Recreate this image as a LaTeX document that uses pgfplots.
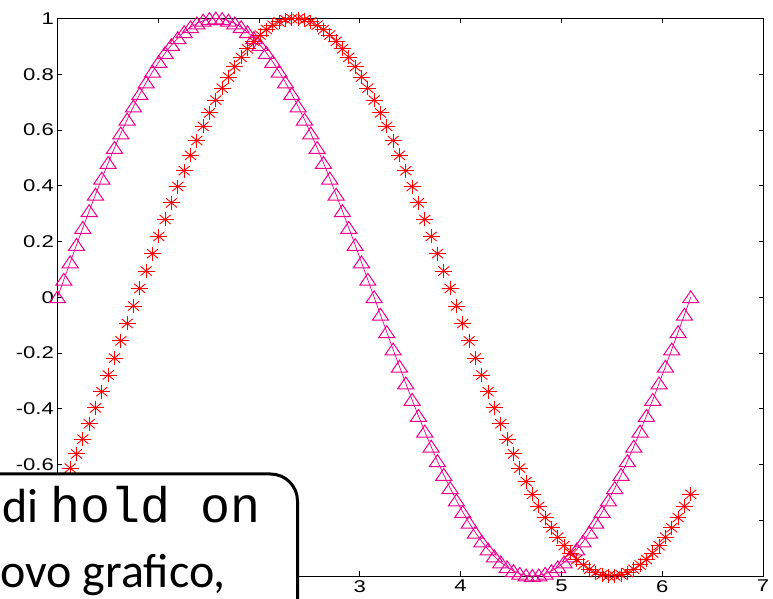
\documentclass[border=0pt]{standalone}
\usepackage{fontspec}
\setmainfont{Liberation Sans}
\newfontfamily\carlito{Carlito}
\newfontfamily\monof{Liberation Mono}
\usepackage{pgfplots}
\usepackage{pgfplotstable}
\pgfplotsset{compat=1.18}

\pgfplotstableread{
x s c
0.0000 0.0000 -0.7071
0.0628 0.0628 -0.6613
0.1257 0.1253 -0.6129
0.1885 0.1874 -0.5621
0.2513 0.2487 -0.5090
0.3142 0.3090 -0.4540
0.3770 0.3681 -0.3971
0.4398 0.4258 -0.3387
0.5027 0.4818 -0.2790
0.5655 0.5358 -0.2181
0.6283 0.5878 -0.1564
0.6912 0.6374 -0.0941
0.7540 0.6845 -0.0314
0.8168 0.7290 0.0314
0.8796 0.7705 0.0941
0.9425 0.8090 0.1564
1.0053 0.8443 0.2181
1.0681 0.8763 0.2790
1.1310 0.9048 0.3387
1.1938 0.9298 0.3971
1.2566 0.9511 0.4540
1.3195 0.9686 0.5090
1.3823 0.9823 0.5621
1.4451 0.9921 0.6129
1.5080 0.9980 0.6613
1.5708 1.0000 0.7071
1.6336 0.9980 0.7501
1.6965 0.9921 0.7902
1.7593 0.9823 0.8271
1.8221 0.9686 0.8607
1.8850 0.9511 0.8910
1.9478 0.9298 0.9178
2.0106 0.9048 0.9409
2.0735 0.8763 0.9603
2.1363 0.8443 0.9759
2.1991 0.8090 0.9877
2.2619 0.7705 0.9956
2.3248 0.7290 0.9995
2.3876 0.6845 0.9995
2.4504 0.6374 0.9956
2.5133 0.5878 0.9877
2.5761 0.5358 0.9759
2.6389 0.4818 0.9603
2.7018 0.4258 0.9409
2.7646 0.3681 0.9178
2.8274 0.3090 0.8910
2.8903 0.2487 0.8607
2.9531 0.1874 0.8271
3.0159 0.1253 0.7902
3.0788 0.0628 0.7501
3.1416 0.0000 0.7071
3.2044 -0.0628 0.6613
3.2673 -0.1253 0.6129
3.3301 -0.1874 0.5621
3.3929 -0.2487 0.5090
3.4558 -0.3090 0.4540
3.5186 -0.3681 0.3971
3.5814 -0.4258 0.3387
3.6442 -0.4818 0.2790
3.7071 -0.5358 0.2181
3.7699 -0.5878 0.1564
3.8327 -0.6374 0.0941
3.8956 -0.6845 0.0314
3.9584 -0.7290 -0.0314
4.0212 -0.7705 -0.0941
4.0841 -0.8090 -0.1564
4.1469 -0.8443 -0.2181
4.2097 -0.8763 -0.2790
4.2726 -0.9048 -0.3387
4.3354 -0.9298 -0.3971
4.3982 -0.9511 -0.4540
4.4611 -0.9686 -0.5090
4.5239 -0.9823 -0.5621
4.5867 -0.9921 -0.6129
4.6496 -0.9980 -0.6613
4.7124 -1.0000 -0.7071
4.7752 -0.9980 -0.7501
4.8381 -0.9921 -0.7902
4.9009 -0.9823 -0.8271
4.9637 -0.9686 -0.8607
5.0265 -0.9511 -0.8910
5.0894 -0.9298 -0.9178
5.1522 -0.9048 -0.9409
5.2150 -0.8763 -0.9603
5.2779 -0.8443 -0.9759
5.3407 -0.8090 -0.9877
5.4035 -0.7705 -0.9956
5.4664 -0.7290 -0.9995
5.5292 -0.6845 -0.9995
5.5920 -0.6374 -0.9956
5.6549 -0.5878 -0.9877
5.7177 -0.5358 -0.9759
5.7805 -0.4818 -0.9603
5.8434 -0.4258 -0.9409
5.9062 -0.3681 -0.9178
5.9690 -0.3090 -0.8910
6.0319 -0.2487 -0.8607
6.0947 -0.1874 -0.8271
6.1575 -0.1253 -0.7902
6.2204 -0.0628 -0.7501
6.2832 0.0000 -0.7071
}\datatable

\begin{document}
\begin{tikzpicture}
\path[use as bounding box, clip] (0,0) rectangle (773pt,599pt);
\begin{axis}[
  at={(57.5pt,23pt)}, anchor=south west,
  scale only axis, width=705.5pt, height=557.5pt,
  xmin=0, xmax=7, ymin=-1, ymax=1,
  xtick={0,1,2,3,4,5,6,7},
  xticklabels={,,,3,4,5,6,7},
  ytick={-1,-0.8,-0.6,-0.4,-0.2,0,0.2,0.4,0.6,0.8,1},
  yticklabels={,,-0.6,-0.4,-0.2,0,0.2,0.4,0.6,0.8,1},
  tick align=inside, major tick length=4.5pt,
  axis line style={line width=0.9pt, black},
  tick style={line width=0.9pt, black},
  ticklabel style={font=\fontsize{17}{17}\selectfont, xscale=1.3},
  yticklabel style={inner xsep=2.6pt},
  xticklabel style={inner ysep=4pt},
  clip=false,
]
\addplot[color=magenta, line width=0.7pt, mark=triangle, mark size=9.3pt,
  mark options={solid, line width=1pt, yshift=-1.5pt, yscale=0.85}]
  table[x=x, y=s] {\datatable};
\addplot[color=red, only marks, mark=+, mark size=7pt,
  mark options={line width=0.9pt, xscale=1.2}]
  table[x=x, y=c] {\datatable};
\addplot[color=red, only marks, mark=x, mark size=6.5pt,
  mark options={line width=0.9pt, xscale=1.2}]
  table[x=x, y=c] {\datatable};
\end{axis}
\draw[line width=3pt, fill=white, rounded corners=27pt] (-40pt,-80pt) rectangle (297.5pt,125pt);
\node[anchor=base west, inner sep=0, font=\carlito\fontsize{48}{48}\selectfont] at (2pt,76pt) {di};
\node[anchor=base west, inner sep=0, font=\monof\fontsize{50}{50}\selectfont] at (50pt,76pt) {hold on};
\node[anchor=base west, inner sep=0, font=\carlito\fontsize{48}{48}\selectfont] at (0pt,11pt) {ovo grafico,};
\end{tikzpicture}
\end{document}
